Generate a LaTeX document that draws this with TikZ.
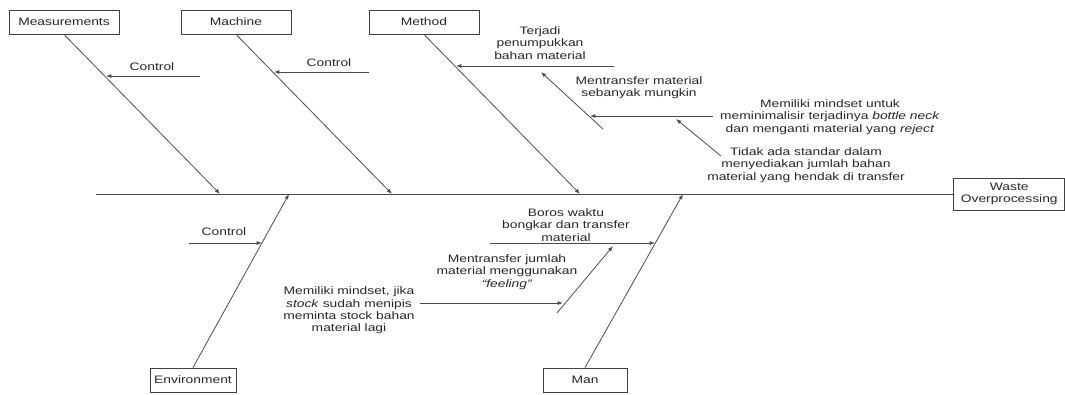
\documentclass[tikz,border=0pt]{standalone}
\usepackage{fontspec}
\setmainfont{Liberation Sans}[FakeStretch=1.28]
\usetikzlibrary{arrows.meta,positioning,calc}

\begin{document}
\begin{tikzpicture}[x=0.75pt,y=-0.75pt,
    font=\fontsize{8.1}{9.3}\selectfont,
    box/.style={draw=black!75,line width=0.6pt,minimum width=82.5pt,minimum height=18pt,inner sep=0pt,text=black!85},
    cause/.style={align=center,inner sep=0pt,text=black!85},
    spine/.style={draw=black!70,line width=0.6pt},
    bone/.style={draw=black!70,line width=0.6pt,-{Latex[length=4pt,width=3pt]}}]
    \useasboundingbox (0,0) rectangle (1065,394);

    % categories
    \node[box] (meas) at (64,22) {Measurements};
    \node[box] (mach) at (236,22) {Machine};
    \node[box] (meth) at (424,22) {Method};
    \node[box,minimum width=64.5pt] (env) at (193,380) {Environment};
    \node[box,minimum width=63pt] (man) at (585,380) {Man};
    \node[box,align=center,minimum width=83.25pt,minimum height=24pt] (waste) at (1009.25,194) {Waste\\Overprocessing};

    % spine and bones
    \coordinate (tail) at (96,194);
    \coordinate (hMeas) at (220,194);
    \coordinate (hMach) at (392,194);
    \coordinate (hMeth) at (580,194);
    \coordinate (hEnv) at (289,194);
    \coordinate (hMan) at (683,194);
    \draw[spine] (tail) -- (waste.west);
    \draw[bone] (meas.south) -- (hMeas);
    \draw[bone] (mach.south) -- (hMach);
    \draw[bone] (meth.south) -- (hMeth);
    \draw[bone] (env.north) -- (hEnv);
    \draw[bone] (man.north) -- (hMan);

    % causes
    \node[cause] (ctrlA) at (152,67) {Control};
    \node[cause] (ctrlB) at (329,63) {Control};
    \node[cause] (ctrlC) at (224,232) {Control};
    \node[cause] (terjadi) at (540,43) {Terjadi\\penumpukkan\\bahan material};
    \node[cause] (mtm) at (639,88) {Mentransfer material\\sebanyak mungkin};
    \node[cause] (mindU) at (830,117) {Memiliki mindset untuk\\meminimalisir terjadinya \textit{bottle neck}\\dan menganti material yang \textit{reject}};
    \node[cause] (tidak) at (806,165) {Tidak ada standar dalam\\menyediakan jumlah bahan\\material yang hendak di transfer};
    \node[cause] (boros) at (566,225) {Boros waktu\\bongkar dan transfer\\material};
    \node[cause] (mtj) at (507,272) {Mentransfer jumlah\\material menggunakan\\\textit{“feeling”}};
    \node[cause] (mindJ) at (349,310.5) {Memiliki mindset, jika\\\textit{stock} sudah menipis\\meminta stock bahan\\material lagi};

    % cause arrows
    \coordinate (sA) at (200,76);  \coordinate (tA) at (106,76);
    \coordinate (sB) at (369,72);  \coordinate (tB) at (274,72);
    \coordinate (sC) at (189,243); \coordinate (tC) at (262,243);
    \coordinate (sT) at (614,66);  \coordinate (tT) at (456,66);
    \coordinate (sM) at (603,129); \coordinate (tM) at (541,72);
    \coordinate (sU) at (713,116); \coordinate (tU) at (590,116);
    \coordinate (sD) at (721,156); \coordinate (tD) at (676,119);
    \coordinate (sB2) at (490,243); \coordinate (tB2) at (655,243);
    \coordinate (sJ) at (557,313); \coordinate (tJ) at (613,246);
    \coordinate (sK) at (420,303); \coordinate (tK) at (563,303);
    \draw[bone] (sA) -- (tA);
    \draw[bone] (sB) -- (tB);
    \draw[bone] (sC) -- (tC);
    \draw[bone] (sT) -- (tT);
    \draw[bone] (sM) -- (tM);
    \draw[bone] (sU) -- (tU);
    \draw[bone] (sD) -- (tD);
    \draw[bone] (sB2) -- (tB2);
    \draw[bone] (sJ) -- (tJ);
    \draw[bone] (sK) -- (tK);
\end{tikzpicture}
\end{document}
